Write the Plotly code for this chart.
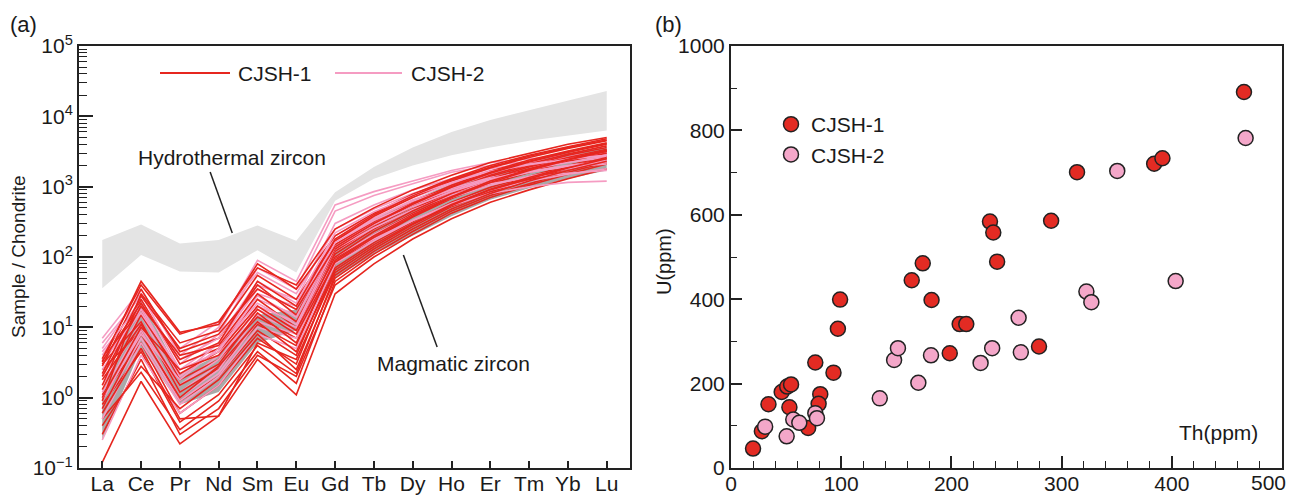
import plotly.graph_objects as go

FONT = "Liberation Sans, Arial, sans-serif"
INK = "#1a1a1a"
RED = "#e6261f"
PINK = "#f59cc2"
RED_M = "#e32b23"
PINK_M = "#f4a7c9"

# ---------------- panel (a) data ----------------
elements = ["La", "Ce", "Pr", "Nd", "Sm", "Eu", "Gd", "Tb", "Dy", "Ho", "Er", "Tm", "Yb", "Lu"]

y_tickvals = [0.1, 1, 10, 100, 1000, 10000, 100000]
y_ticktext = ["10<sup>\u22121</sup>", "10<sup>0</sup>", "10<sup>1</sup>", "10<sup>2</sup>",
              "10<sup>3</sup>", "10<sup>4</sup>", "10<sup>5</sup>"]

hydro_upper = [175, 290, 155, 175, 280, 170, 830, 1900, 3600, 6000, 8900, 12300, 17000, 23000]
hydro_lower = [36, 107, 62, 60, 125, 60, 630, 1300, 2000, 2800, 3600, 4500, 5300, 6300]

magma_upper = [1.15, 25, 2.2, 4, 15, 18, 150, 350, 650, 1100, 1700, 2300, 3000, 3600]
magma_lower = [0.25, 5, 0.8, 1.2, 6, 9, 50, 110, 200, 380, 650, 950, 1300, 1700]

cjsh1_ree = [
    [0.12, 1.7, 0.22, 0.55, 3.5, 1.1, 30, 80, 180, 350, 600, 900, 1300, 1800],
    [0.5, 2.3, 0.35, 0.9, 4.5, 1.6, 45, 110, 230, 450, 750, 1100, 1600, 2200],
    [0.8, 4.5, 0.45, 1.1, 5.5, 2.2, 55, 130, 270, 520, 850, 1250, 1800, 2500],
    [1.1, 6, 0.6, 1.5, 7, 3.0, 70, 160, 320, 600, 980, 1400, 2000, 2700],
    [2.5, 9, 0.9, 2.0, 9, 4.0, 80, 180, 370, 680, 1100, 1600, 2300, 3000],
    [3.0, 12, 1.2, 2.6, 11, 5.5, 95, 210, 420, 760, 1250, 1800, 2500, 3300],
    [3.5, 18, 1.8, 3.5, 14, 7, 110, 250, 480, 850, 1400, 2000, 2800, 3600],
    [0.3, 3.5, 0.3, 0.7, 4, 2.0, 40, 100, 210, 420, 700, 1050, 1500, 2100],
    [1.5, 25, 3.0, 5, 25, 10, 120, 270, 520, 900, 1450, 2100, 2900, 3800],
    [2.8, 35, 4.5, 7, 40, 15, 150, 320, 600, 1050, 1650, 2400, 3200, 4200],
    [3.2, 45, 8.5, 11, 80, 35, 200, 420, 780, 1300, 2000, 2800, 3700, 4800],
    [0.9, 30, 6, 9, 55, 25, 170, 380, 700, 1200, 1850, 2600, 3500, 4500],
    [1.3, 15, 2.2, 4.5, 20, 9, 100, 230, 450, 800, 1300, 1900, 2600, 3400],
    [0.7, 8, 1.0, 2.8, 12, 4.5, 65, 150, 300, 560, 920, 1350, 1900, 2600],
    [2.0, 20, 4.0, 5.5, 30, 12, 130, 290, 560, 980, 1550, 2250, 3100, 4000],
    [0.6, 5, 0.5, 0.55, 6, 3.5, 60, 140, 290, 540, 900, 1300, 1850, 2500],
    [1.8, 11, 1.5, 3.0, 16, 6, 90, 200, 400, 720, 1200, 1750, 2450, 3200],
    [3.6, 40, 8, 12, 70, 40, 250, 500, 900, 1450, 2200, 3000, 4000, 5000],
    [2.2, 28, 5, 8, 35, 18, 140, 300, 580, 1000, 1600, 2300, 3100, 4100],
    [0.4, 2.8, 0.7, 1.8, 8, 2.5, 50, 120, 250, 480, 800, 1200, 1700, 2300],
    [3.3, 22, 3.5, 6, 45, 20, 180, 400, 740, 1250, 1900, 2700, 3600, 4600],
    [1.0, 10, 2.5, 4, 18, 8, 85, 190, 380, 700, 1150, 1700, 2400, 3200],
]

cjsh2_ree = [
    [7, 35, 4, 10, 90, 45, 550, 850, 1200, 1700, 2200, 2500, 2800, 3000],
    [5, 30, 3, 8, 70, 35, 450, 750, 1100, 1600, 2000, 2300, 2600, 2900],
    [4, 25, 2.5, 6, 40, 25, 300, 550, 900, 1300, 1800, 2200, 2600, 3000],
    [3, 20, 2.0, 5, 30, 20, 200, 400, 700, 1100, 1600, 2000, 2500, 2900],
    [2, 15, 1.5, 4, 25, 15, 170, 350, 650, 1000, 1500, 1900, 2300, 2700],
    [1.5, 12, 1.2, 3, 20, 12, 150, 300, 550, 900, 1350, 1750, 2200, 2600],
    [0.9, 9, 1.0, 2.5, 15, 9, 120, 250, 480, 800, 1200, 1600, 2000, 2400],
    [0.5, 6, 0.8, 2.0, 10, 7, 100, 210, 400, 700, 1050, 1400, 1800, 2200],
    [0.25, 4, 0.6, 1.5, 8, 5, 80, 170, 330, 580, 900, 1200, 1500, 1800],
    [6, 28, 5, 12, 60, 30, 250, 480, 800, 1200, 1700, 2100, 2500, 2800],
    [2.5, 18, 2.0, 6, 35, 18, 180, 360, 620, 950, 1350, 1650, 1900, 2100],
    [1.2, 10, 1.5, 3.5, 18, 10, 130, 260, 470, 760, 1100, 1350, 1550, 1700],
    [0.7, 7, 0.9, 2.2, 12, 8, 90, 180, 330, 540, 800, 1000, 1150, 1200],
    [4.5, 22, 3.5, 7, 45, 22, 220, 440, 750, 1150, 1650, 2050, 2450, 2800],
    [3.5, 16, 2.5, 4.5, 28, 14, 160, 330, 580, 900, 1300, 1650, 2000, 2300],
    [1.0, 8, 1.8, 5, 22, 11, 140, 290, 520, 850, 1250, 1600, 1950, 2300],
]

# ---------------- panel (b) data ----------------
th_tickvals = [0, 100, 200, 300, 400, 500]
th_ticktext = ["0", "100", "200", "300", "400", ""]   # "500" drawn as a label kept inside the page

cjsh1_th = [20, 28, 34, 46, 51, 54.5, 53, 70, 76.5, 81, 79.5, 93, 97, 99,
            164, 174, 182, 198.5, 207.5, 213.5, 241.5, 279.5, 235, 238, 290.5,
            314, 384, 391.5, 465.5]
cjsh1_u = [46, 87, 151, 180, 193, 198, 144, 95, 250, 175, 152, 226, 330, 399,
           445, 485, 398, 272, 341, 341, 489, 288, 584, 558, 586,
           701, 721, 734, 891]

cjsh2_th = [31, 50.5, 56.5, 62, 76.5, 78, 135, 148, 151.5, 170, 181.5,
            226.5, 237, 261, 263, 322.5, 327, 350.5, 403.5, 467]
cjsh2_u = [98, 75, 115, 107, 130, 118, 165, 256, 284, 202, 267,
           249, 284, 356, 274, 418, 393, 704, 443, 782]

xidx = list(range(len(elements)))

fig = go.Figure()

# bands
fig.add_trace(go.Scatter(x=xidx + xidx[::-1], y=hydro_upper + hydro_lower[::-1],
                         fill="toself", fillcolor="#e4e4e4", line=dict(width=0),
                         mode="lines", showlegend=False, hoverinfo="skip",
                         xaxis="x", yaxis="y"))
fig.add_trace(go.Scatter(x=xidx + xidx[::-1], y=magma_upper + magma_lower[::-1],
                         fill="toself", fillcolor="#a9a9a9", line=dict(width=0),
                         mode="lines", showlegend=False, hoverinfo="skip",
                         xaxis="x", yaxis="y"))

# interleave the REE patterns
n = max(len(cjsh1_ree), len(cjsh2_ree))
for i in range(n):
    if i < len(cjsh2_ree):
        fig.add_trace(go.Scatter(x=xidx, y=cjsh2_ree[i], mode="lines",
                                 line=dict(color=PINK, width=1.6),
                                 showlegend=False, xaxis="x", yaxis="y"))
    if i < len(cjsh1_ree):
        fig.add_trace(go.Scatter(x=xidx, y=cjsh1_ree[i], mode="lines",
                                 line=dict(color=RED, width=1.6),
                                 showlegend=False, xaxis="x", yaxis="y"))

# scatter panel
fig.add_trace(go.Scatter(x=cjsh1_th, y=cjsh1_u, mode="markers", name="CJSH-1",
                         marker=dict(size=15, color=RED_M, line=dict(color="#222222", width=1.5)),
                         xaxis="x2", yaxis="y2"))
fig.add_trace(go.Scatter(x=cjsh2_th, y=cjsh2_u, mode="markers", name="CJSH-2",
                         marker=dict(size=15, color=PINK_M, line=dict(color="#222222", width=1.5)),
                         xaxis="x2", yaxis="y2"))

W, H = 1298, 495
def px(x):
    return x / W
def py(y):
    return 1 - y / H

axis_common = dict(showgrid=False, zeroline=False, showline=True, linecolor="#222222",
                   linewidth=2, mirror=True, ticks="inside", tickcolor="#222222",
                   automargin=False,
                   tickfont=dict(family=FONT, size=21, color=INK))

fig.update_layout(
    width=W, height=H,
    margin=dict(l=0, r=0, t=0, b=0, pad=0),
    paper_bgcolor="white", plot_bgcolor="white",
    font=dict(family=FONT, color=INK),
    xaxis=dict(axis_common, domain=[px(79), px(630)], range=[-0.6, 13.6],
               tickvals=xidx, ticktext=elements, ticklen=7, tickwidth=1.5,
               ticklabelstandoff=-4, anchor="y"),
    yaxis=dict(axis_common, domain=[py(468), py(46)], type="log", range=[-1, 5],
               tickvals=y_tickvals, ticktext=y_ticktext, ticklen=14, tickwidth=2,
               minor=dict(ticks="inside", ticklen=8, tickcolor="#222222", tickwidth=1.2, dtick="D1"),
               anchor="x"),
    xaxis2=dict(axis_common, domain=[px(731), px(1282)], range=[0, 500],
                tickvals=th_tickvals, ticktext=th_ticktext, ticklen=12, tickwidth=1.5,
                ticklabelstandoff=-4,
                minor=dict(ticks="inside", ticklen=7, tickcolor="#222222", dtick=20, tickwidth=1.2),
                anchor="y2"),
    yaxis2=dict(axis_common, domain=[py(468), py(46)], range=[0, 1000],
                dtick=200, ticklen=11, tickwidth=1.5,
                minor=dict(ticks="inside", ticklen=6, tickcolor="#222222", dtick=100, tickwidth=1.2),
                anchor="x2"),
    showlegend=True,
    legend=dict(x=px(771), y=py(104), xanchor="left", yanchor="top",
                bgcolor="rgba(0,0,0,0)", font=dict(family=FONT, size=21, color=INK),
                itemsizing="trace", tracegroupgap=0),
)

def ann(text, x, y, size=21, xanchor="center", **kw):
    d = dict(text=text, x=x, y=y, xanchor=xanchor, yanchor="middle", showarrow=False,
             font=dict(size=size, family=FONT, color=INK))
    d.update(kw)
    return d

annotations = [
    ann("(a)", px(8), py(25), 22, "left", xref="paper", yref="paper"),
    ann("(b)", px(653), py(25), 22, "left", xref="paper", yref="paper"),
    ann("Sample / Chondrite", px(18), py(257), 19, xref="paper", yref="paper", textangle=-90),
    ann("U(ppm)", px(664), py(262), 20, xref="paper", yref="paper", textangle=-90),
    ann("Th(ppm)", px(1218), py(432), 21, xref="paper", yref="paper"),
    ann("Hydrothermal zircon", 3.35, 3.42, 21, xref="x", yref="y"),
    ann("Magmatic zircon", 9.05, 0.49, 21, xref="x", yref="y"),
    ann("CJSH-1", px(236), py(73), 21, "left", xref="paper", yref="paper"),
    ann("CJSH-2", px(409), py(73), 21, "left", xref="paper", yref="paper"),
    ann("500", px(1287), py(482), 21, "right", xref="paper", yref="paper", borderpad=0),
]
fig.update_layout(annotations=annotations)

shapes = [
    dict(type="line", xref="x", yref="y", x0=2.78, y0=10 ** 3.21, x1=3.35, y1=10 ** 2.34,
         line=dict(color="#222222", width=1.5)),
    dict(type="line", xref="x", yref="y", x0=7.76, y0=10 ** 2.03, x1=8.63, y1=10 ** 0.72,
         line=dict(color="#222222", width=1.5)),
    dict(type="line", xref="paper", yref="paper", x0=px(160), y0=py(73), x1=px(230), y1=py(73),
         line=dict(color=RED, width=2)),
    dict(type="line", xref="paper", yref="paper", x0=px(335), y0=py(73), x1=px(402), y1=py(73),
         line=dict(color=PINK, width=2)),
]
fig.update_layout(shapes=shapes)

# remove the browser's default 8px body margin so the figure fills the window
fig.write_html("out.html",
               config={"displayModeBar": False},
               post_script="document.body.style.margin='0';document.body.style.overflow='hidden';")
